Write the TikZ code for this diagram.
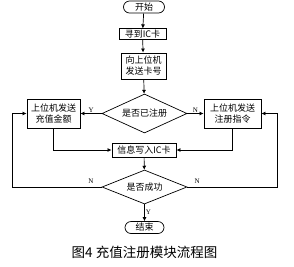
\documentclass[tikz,border=0pt]{standalone}
\usepackage{fontspec}
\setmainfont{Liberation Serif}
\newfontfamily\cjk{Noto Sans CJK SC}
\usetikzlibrary{arrows.meta,shapes.geometric}

\begin{document}
\begin{tikzpicture}[x=1pt,y=-1pt,
      stepbox/.style={draw,line width=0.9pt,align=center,inner sep=1pt,font=\cjk\fontsize{9}{11}\selectfont},
      term/.style={draw,line width=0.7pt,rounded corners=6pt,minimum width=41pt,minimum height=12pt,
        inner sep=1pt,font=\cjk\fontsize{9}{10}\selectfont},
      choice/.style={draw,line width=0.7pt,diamond,aspect=2.2,inner sep=0pt,font=\cjk\fontsize{9}{10}\selectfont},
      flow/.style={line width=0.7pt,-{Latex[length=4pt,width=4pt]}},
      tag/.style={font=\fontsize{7}{8}\selectfont,inner sep=1pt}]
      \useasboundingbox (0,0) rectangle (294,266);
      \node[term] (start) at (144,7) {开始};
      \node[stepbox,minimum width=47pt,minimum height=10pt] (findcard) at (142.5,34) {寻到IC卡};
      \node[stepbox,minimum width=45pt,minimum height=26pt] (sendid) at (143.5,66) {向上位机\\发送卡号};
      \node[choice,minimum width=85pt,minimum height=39pt] (isreg) at (144.5,113.5) {是否已注册};
      \node[stepbox,minimum width=53pt,minimum height=29pt] (recharge) at (53.5,113.5) {上位机发送\\充值金额};
      \node[stepbox,minimum width=57pt,minimum height=29pt] (regcmd) at (232.5,113.5) {上位机发送\\注册指令};
      \node[stepbox,minimum width=64pt,minimum height=14pt] (writecard) at (144,150) {信息写入IC卡};
      \node[choice,minimum width=85pt,minimum height=34pt] (isok) at (144.5,187) {是否成功};
      \node[term,minimum width=39pt] (stop) at (144.5,227.5) {结束};
      \node[font=\cjk\fontsize{13.5}{15}\selectfont] (caption) at (144.5,252.5) {图4\ 充值注册模块流程图};
      \coordinate (lloop) at (12,187);
      \coordinate (rloop) at (277,187);
      \draw[flow] (start) -- (findcard);
      \draw[flow] (findcard) -- (sendid);
      \draw[flow] (sendid) -- (isreg);
      \draw[flow] (isreg) -- node[tag,above] {Y} (recharge);
      \draw[flow] (isreg) -- node[tag,above] {N} (regcmd);
      \draw[flow] (recharge) |- (writecard);
      \draw[flow] (regcmd) |- (writecard);
      \draw[flow] (writecard) -- (isok);
      \draw[flow] (isok) -- node[tag,pos=0.12,above=2pt] {N} (lloop) |- (recharge);
      \draw[flow] (isok) -- node[tag,pos=0.11,above=2pt] {N} (rloop) |- (regcmd);
      \draw[flow] (isok) -- node[tag,right,pos=0.45] {Y} (stop);
    \end{tikzpicture}
\end{document}
